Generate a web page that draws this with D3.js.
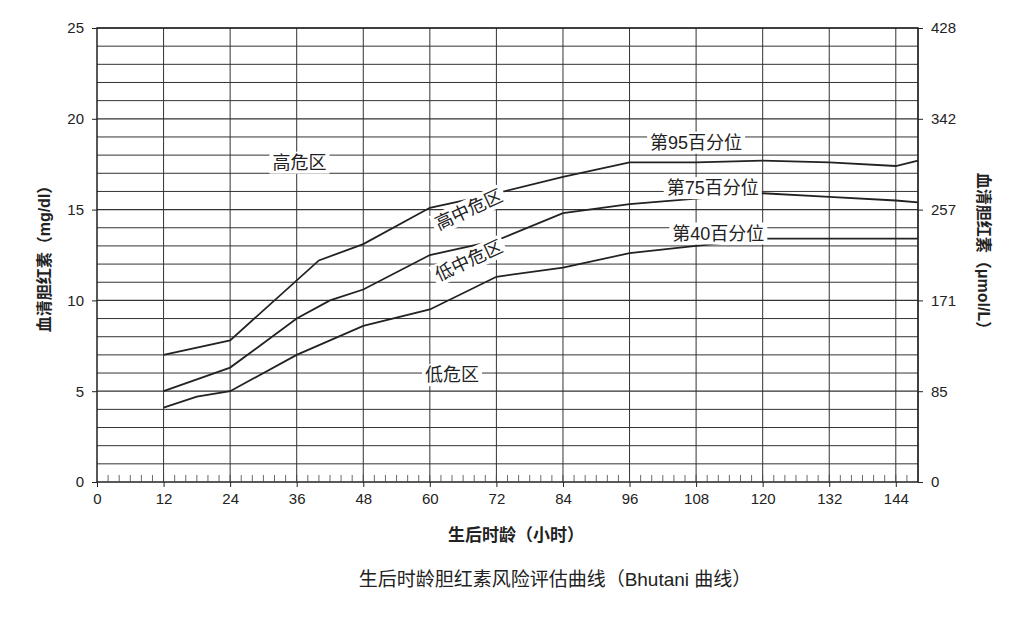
<!DOCTYPE html>
<html><head><meta charset="utf-8">
<script src="https://cdn.jsdelivr.net/npm/d3@7"></script>
<style>body{margin:0;background:#fff}text{font-family:"Liberation Sans","Noto Sans CJK SC",sans-serif;fill:#222}</style>
</head><body><svg id="c" width="1024" height="618"></svg>
<script>
const xTicks = [0,12,24,36,48,60,72,84,96,108,120,132,144];
const yTicks = [0,5,10,15,20,25];
const yRightLabels = ["0","85","171","257","342","428"];
const p95 = [[12,7.0],[24,7.8],[40,12.2],[48,13.1],[60,15.1],[72,15.9],[84,16.8],[96,17.6],[108,17.6],[120,17.7],[132,17.6],[144,17.4],[148,17.7]];
const p75 = [[12,5.0],[24,6.3],[36,9.0],[42,10.0],[48,10.6],[60,12.5],[72,13.3],[84,14.8],[96,15.3],[108,15.6],[120,15.9],[132,15.7],[144,15.5],[148,15.4]];
const p40 = [[12,4.1],[18,4.7],[24,5.0],[36,7.0],[48,8.6],[60,9.5],[72,11.3],[84,11.8],[96,12.6],[108,13.0],[120,13.4],[132,13.4],[148,13.4]];
const zoneLabels = [
  {t:"高危区", x:36.5, y:17.6, r:0},
  {t:"高中危区", x:67, y:15.0, r:-25},
  {t:"低中危区", x:67, y:12.2, r:-25},
  {t:"低危区", x:64, y:5.9, r:0},
  {t:"第95百分位", x:108, y:18.7, r:0},
  {t:"第75百分位", x:111, y:16.2, r:0},
  {t:"第40百分位", x:112, y:13.7, r:0}
];

const svg = d3.select("#c");
const x = d3.scaleLinear().domain([0,148]).range([97,918]);
const y = d3.scaleLinear().domain([0,25]).range([482,28]);
const g = svg.append("g");

// horizontal grid every 1 mg/dl
g.selectAll(".h").data(d3.range(1,26)).enter().append("line")
  .attr("x1",x(0)).attr("x2",x(148)).attr("y1",d=>y(d)).attr("y2",d=>y(d))
  .attr("stroke","#333").attr("stroke-width",d=>d%5===0?1.2:1);
g.selectAll(".v").data(xTicks.slice(1).concat([148])).enter().append("line")
  .attr("x1",d=>x(d)).attr("x2",d=>x(d)).attr("y1",y(0)).attr("y2",y(25))
  .attr("stroke","#333").attr("stroke-width",1);
// frame
g.append("rect").attr("x",x(0)).attr("y",y(25)).attr("width",x(148)-x(0)).attr("height",y(0)-y(25))
  .attr("fill","none").attr("stroke","#222").attr("stroke-width",1.5);
// minor ticks near bottom
g.selectAll(".m").data(d3.range(2,148,2)).enter().append("line")
  .attr("x1",d=>x(d)).attr("x2",d=>x(d)).attr("y1",y(0)).attr("y2",y(0)-7)
  .attr("stroke","#444").attr("stroke-width",0.8);

const xa = svg.append("g").attr("transform",`translate(0,${y(0)})`)
  .call(d3.axisBottom(x).tickValues(xTicks).tickSize(5).tickPadding(6));
const ya = svg.append("g").attr("transform",`translate(${x(0)},0)`)
  .call(d3.axisLeft(y).tickValues(yTicks).tickSize(5).tickPadding(8));
const yr = svg.append("g").attr("transform",`translate(${x(148)},0)`)
  .call(d3.axisRight(y).tickValues(yTicks).tickFormat((d,i)=>yRightLabels[i]).tickSize(5).tickPadding(8));
[xa,ya,yr].forEach(a=>{a.select(".domain").remove();a.selectAll("text").attr("font-size",15).attr("fill","#222");a.selectAll("line").attr("stroke","#222");});

const line = d3.line().x(d=>x(d[0])).y(d=>y(d[1]));
[p95,p75,p40].forEach(s=>svg.append("path").attr("d",line(s)).attr("fill","none").attr("stroke","#222").attr("stroke-width",1.8));

zoneLabels.forEach(l=>{
  const gg = svg.append("g").attr("transform",`translate(${x(l.x)},${y(l.y)}) rotate(${l.r})`);
  const t = gg.append("text").attr("text-anchor","middle").attr("dy","0.35em").attr("font-size",18).text(l.t);
  const b = t.node().getBBox();
  gg.insert("rect","text").attr("x",b.x-3).attr("y",b.y-1).attr("width",b.width+6).attr("height",b.height+2).attr("fill","#fff");
});

svg.append("text").attr("transform",`translate(50,${y(12.5)}) rotate(-90)`).attr("text-anchor","middle")
  .attr("font-size",16).attr("font-weight","bold").text("血清胆红素（mg/dl）");
svg.append("text").attr("transform",`translate(978,${y(12.5)}) rotate(90)`).attr("text-anchor","middle")
  .attr("font-size",16).attr("font-weight","bold").text("血清胆红素（μmol/L）");
svg.append("text").attr("x",516).attr("y",541).attr("text-anchor","middle").attr("font-size",17).attr("font-weight","bold").text("生后时龄（小时）");
svg.append("text").attr("x",555).attr("y",586).attr("text-anchor","middle").attr("font-size",19).text("生后时龄胆红素风险评估曲线（Bhutani 曲线）");
</script></body></html>
